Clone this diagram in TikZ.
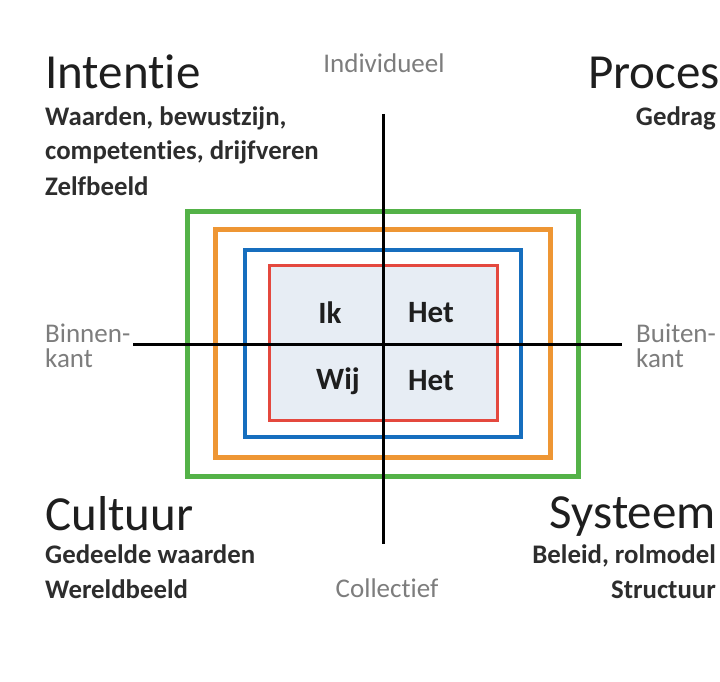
\documentclass[tikz,border=0pt]{standalone}
\usepackage{fontspec}
\setmainfont{Carlito}[Ligatures={NoCommon,NoContextual}]
\definecolor{qgreen}{RGB}{84,178,72}
\definecolor{qorange}{RGB}{238,150,52}
\definecolor{qblue}{RGB}{22,110,190}
\definecolor{qred}{RGB}{228,72,62}
\definecolor{qfill}{RGB}{231,237,244}
\definecolor{qtext}{RGB}{30,30,30}
\definecolor{qsub}{RGB}{45,45,45}
\definecolor{qgrey}{RGB}{125,125,125}
\tikzset{
  title/.style={font=\fontsize{49}{49}\selectfont, text=qtext, inner sep=0pt},
  sub/.style={font=\fontsize{26.8}{26.8}\selectfont\bfseries, text=qsub, inner sep=0pt},
  axlabel/.style={font=\fontsize{27}{27}\selectfont, text=qgrey, inner sep=0pt},
  inner/.style={font=\fontsize{31}{31}\selectfont\bfseries, text=qtext, inner sep=0pt},
  axis/.style={line width=3pt, black},
}
\begin{document}
\begin{tikzpicture}[x=1pt,y=-1pt]
\useasboundingbox[fill=white] (0,0) rectangle (720,682);
% rectangles
\draw[qgreen, line width=5pt] (187,211) rectangle (578,476);
\draw[qorange, line width=5pt] (215,229) rectangle (550,457);
\draw[qblue, line width=4pt] (245,250) rectangle (521,437);
\draw[qred, line width=3pt, fill=qfill] (269,265) rectangle (497,420);
% axes
\coordinate (vt) at (383,114);
\coordinate (vb) at (383,544);
\coordinate (hl) at (133,344);
\coordinate (hr) at (622,344);
\draw[axis] (vt) -- (vb);
\draw[axis] (hl) -- (hr);
% inner labels
\node[inner] (ik) at (330,313) {Ik};
\node[inner] (het1) at (431,313) {Het};
\node[inner] (wij) at (338,381) {Wij};
\node[inner] (het2) at (431,381) {Het};
% axis labels
\node[axlabel, anchor=base] (ind) at (384,73) {Individueel};
\node[axlabel, anchor=base] (col) at (387,597) {Collectief};
\node[axlabel, anchor=base west] (bin1) at (45,342) {Binnen-};
\node[axlabel, anchor=base west] (bin2) at (45,367) {kant};
\node[axlabel, anchor=base west] (bui1) at (636,342) {Buiten-};
\node[axlabel, anchor=base west] (bui2) at (636,367) {kant};
% quadrant titles
\node[title, anchor=base west] (int) at (45,89) {Intentie};
\node[sub, anchor=base west] (int1) at (45,125) {Waarden, bewustzijn,};
\node[sub, anchor=base west] (int2) at (45,160) {competenties, drijfveren};
\node[sub, anchor=base west] (int3) at (45,195) {Zelfbeeld};
\node[title, anchor=base east] (pro) at (720,89) {Proces};
\node[sub, anchor=base east] (pro1) at (716,125) {Gedrag};
\node[title, anchor=base west] (cul) at (45,530) {Cultuur};
\node[sub, anchor=base west] (cul1) at (45,563) {Gedeelde waarden};
\node[sub, anchor=base west] (cul2) at (45,598) {Wereldbeeld};
\node[title, anchor=base east] (sys) at (716,528) {Systeem};
\node[sub, anchor=base east] (sys1) at (716,563) {Beleid, rolmodel};
\node[sub, anchor=base east] (sys2) at (716,598) {Structuur};
\end{tikzpicture}
\end{document}
